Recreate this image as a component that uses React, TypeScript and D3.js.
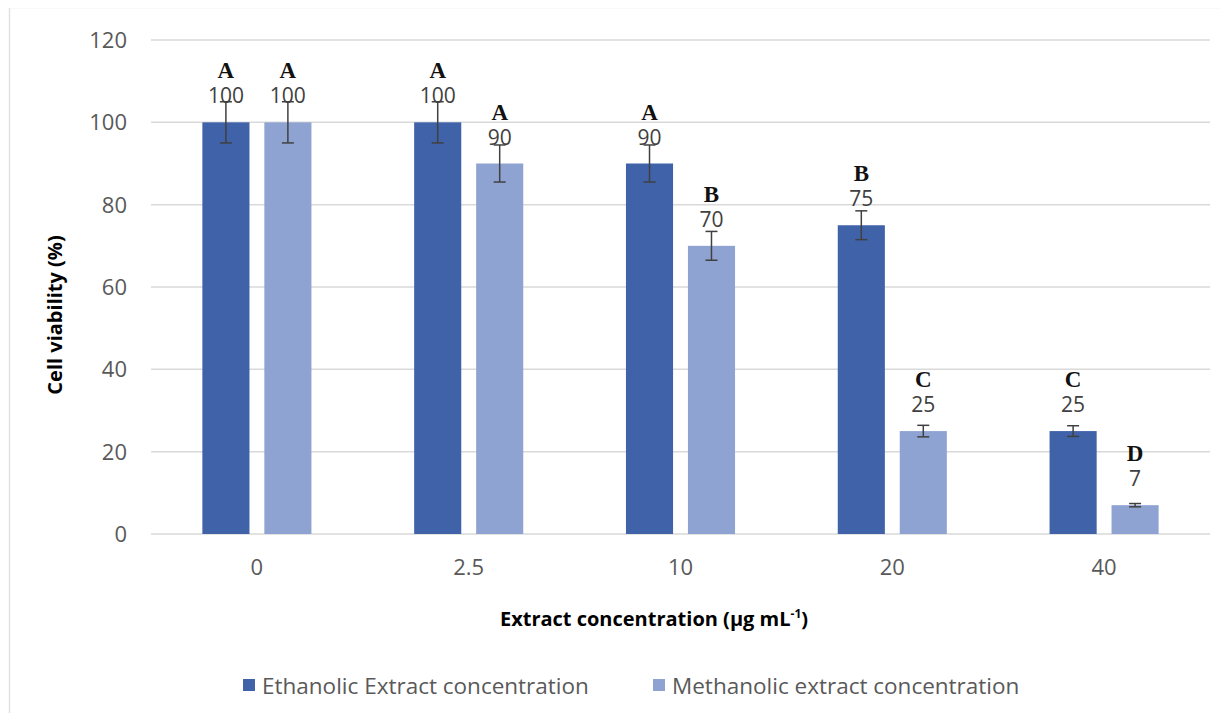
import React, { useEffect, useRef } from 'react';
import * as d3 from 'd3';

const categories = ['0', '2.5', '10', '20', '40'];
const seriesNames = ['Ethanolic Extract concentration', 'Methanolic extract concentration'];
const ethanolic = [100, 100, 90, 75, 25];
const methanolic = [100, 90, 70, 25, 7];
const ethanolicErr = [5, 5, 4.5, 3.5, 1.3];
const methanolicErr = [5, 4.5, 3.5, 1.4, 0.4];
const ethanolicLetters = ['A', 'A', 'A', 'B', 'C'];
const methanolicLetters = ['A', 'A', 'B', 'C', 'D'];
const yTicks = [0, 20, 40, 60, 80, 100, 120];

const colors = ['#3f62a9', '#8fa3d3'];

const App: React.FC = () => {
  const svgRef = useRef<SVGSVGElement>(null);

  useEffect(() => {
    if (!svgRef.current) return;
    const svg = d3.select(svgRef.current);
    svg.selectAll('*').remove();

    const width = 1228;
    const height = 721;
    const left = 151;
    const right = 1210;
    const top = 40;
    const bottom = 534;
    const sans = '"Open Sans", Lato, sans-serif';
    const serif = '"Liberation Serif", "Times New Roman", serif';

    svg.append('rect').attr('width', width).attr('height', height).attr('fill', '#fff');

    // outer frame (top + left edges visible)
    svg.append('line').attr('x1', 9).attr('x2', width).attr('y1', 7.5).attr('y2', 7.5)
      .attr('stroke', '#e2e2e2').attr('stroke-width', 1.5);
    svg.append('line').attr('x1', 9.5).attr('x2', 9.5).attr('y1', 7).attr('y2', height)
      .attr('stroke', '#e2e2e2').attr('stroke-width', 1.5);

    const x0 = d3.scaleBand<string>()
      .domain(categories)
      .range([left, right])
      .paddingInner(0.485)
      .paddingOuter(0.2425);

    const x1 = d3.scaleBand<number>()
      .domain([0, 1])
      .range([0, x0.bandwidth()])
      .paddingInner(0.24);

    const y = d3.scaleLinear().domain([0, 120]).range([bottom, top]);

    // gridlines
    svg.append('g')
      .selectAll('line')
      .data(yTicks)
      .join('line')
      .attr('x1', left)
      .attr('x2', right)
      .attr('y1', d => y(d))
      .attr('y2', d => y(d))
      .attr('stroke', '#d9d9d9')
      .attr('stroke-width', 1.5);

    // y tick labels
    svg.append('g')
      .selectAll('text')
      .data(yTicks)
      .join('text')
      .attr('x', 127)
      .attr('y', d => y(d))
      .attr('dy', '0.36em')
      .attr('text-anchor', 'end')
      .attr('fill', '#595959')
      .attr('font-family', sans)
      .attr('font-size', 22)
      .text(d => d);

    // x tick labels
    svg.append('g')
      .selectAll('text')
      .data(categories)
      .join('text')
      .attr('x', d => (x0(d) as number) + x0.bandwidth() / 2)
      .attr('y', 575)
      .attr('text-anchor', 'middle')
      .attr('fill', '#595959')
      .attr('font-family', sans)
      .attr('font-size', 22)
      .text(d => d);

    const series = [
      { values: ethanolic, errs: ethanolicErr, letters: ethanolicLetters },
      { values: methanolic, errs: methanolicErr, letters: methanolicLetters },
    ];

    series.forEach((s, si) => {
      const g = svg.append('g');
      categories.forEach((c, i) => {
        const bx = (x0(c) as number) + (x1(si) as number);
        const bw = x1.bandwidth();
        const cx = bx + bw / 2;
        const v = s.values[i];
        const e = s.errs[i];

        g.append('rect')
          .attr('x', bx)
          .attr('y', y(v))
          .attr('width', bw)
          .attr('height', y(0) - y(v))
          .attr('fill', colors[si]);

        // error bar
        const eg = g.append('g').attr('stroke', '#404040').attr('stroke-width', 1.5);
        eg.append('line').attr('x1', cx).attr('x2', cx).attr('y1', y(v + e)).attr('y2', y(v - e));
        eg.append('line').attr('x1', cx - 6).attr('x2', cx + 6).attr('y1', y(v + e)).attr('y2', y(v + e));
        eg.append('line').attr('x1', cx - 6).attr('x2', cx + 6).attr('y1', y(v - e)).attr('y2', y(v - e));

        // value label
        g.append('text')
          .attr('x', cx)
          .attr('y', y(v) - 19)
          .attr('text-anchor', 'middle')
          .attr('fill', '#404040')
          .attr('font-family', sans)
          .attr('font-size', 21)
          .text(v);

        // significance letter
        g.append('text')
          .attr('x', cx)
          .attr('y', y(v) - 44)
          .attr('text-anchor', 'middle')
          .attr('fill', '#111')
          .attr('font-family', serif)
          .attr('font-weight', 'bold')
          .attr('font-size', 23)
          .text(s.letters[i]);
      });
    });

    // axis titles
    svg.append('text')
      .attr('transform', `translate(62, 315) rotate(-90)`)
      .attr('text-anchor', 'middle')
      .attr('fill', '#000')
      .attr('font-family', sans)
      .attr('font-weight', 'bold')
      .attr('font-size', 20)
      .text('Cell viability (%)');

    const xt = svg.append('text')
      .attr('x', 654)
      .attr('y', 626)
      .attr('text-anchor', 'middle')
      .attr('fill', '#000')
      .attr('font-family', sans)
      .attr('font-weight', 'bold')
      .attr('font-size', 20);
    xt.append('tspan').text('Extract concentration (µg mL');
    xt.append('tspan').attr('font-size', 12).attr('dy', -8).text('-1');
    xt.append('tspan').attr('dy', 8).text(')');

    // legend
    const legendX = [243, 653];
    seriesNames.forEach((name, i) => {
      svg.append('rect')
        .attr('x', legendX[i])
        .attr('y', 679)
        .attr('width', 12)
        .attr('height', 12)
        .attr('fill', colors[i]);
      svg.append('text')
        .attr('x', legendX[i] + 19)
        .attr('y', 694)
        .attr('fill', '#595959')
        .attr('font-family', sans)
        .attr('font-size', 22.5)
        .text(name);
    });
  }, []);

  return <svg ref={svgRef} width={1228} height={721} style={{ display: 'block', margin: -8 }} />;
};

export default App;
